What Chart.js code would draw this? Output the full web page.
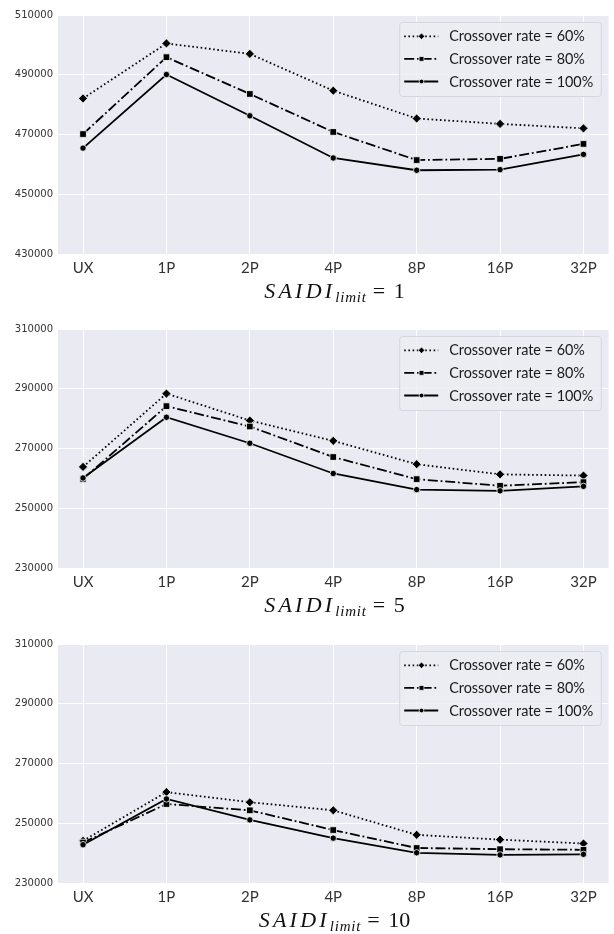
<!DOCTYPE html>
<html>
<head>
<meta charset="utf-8">
<script src="https://cdn.jsdelivr.net/npm/chart.js@4.4.1/dist/chart.umd.min.js"></script>
<style>
  html, body { margin: 0; padding: 0; background: #ffffff; }
  body { width: 614px; height: 934px; position: relative; overflow: hidden; }
  .panel { position: absolute; left: 0; width: 614px; height: 305px; }
  .panel canvas { position: absolute; left: 0; top: 0; }
  .title {
    position: absolute; left: 58px; width: 553px; text-align: center;
    font-family: "Liberation Serif", "DejaVu Serif", serif; font-size: 22px;
    line-height: 24px; color: #111; white-space: nowrap;
  }
  .title i.m { font-style: italic; letter-spacing: 3.2px; }
  .title sub { font-size: 15px; font-style: italic; vertical-align: -4px; line-height: 0; letter-spacing: 0.8px; }
  .title .eq { margin-left: 6px; word-spacing: 3px; }
</style>
</head>
<body>
<div class="panel" style="top:0px"><canvas id="c1" width="614" height="305"></canvas>
  <div class="title" style="top:279px"><i class="m">SAIDI</i><sub>limit</sub><span class="eq">= 1</span></div></div>
<div class="panel" style="top:314px"><canvas id="c2" width="614" height="305"></canvas>
  <div class="title" style="top:279px"><i class="m">SAIDI</i><sub>limit</sub><span class="eq">= 5</span></div></div>
<div class="panel" style="top:629px"><canvas id="c3" width="614" height="305"></canvas>
  <div class="title" style="top:279px"><i class="m">SAIDI</i><sub>limit</sub><span class="eq">= 10</span></div></div>

<script>
// ---------------- data ----------------
const categories = ['UX', '1P', '2P', '4P', '8P', '16P', '32P'];
const seriesLabels = ['Crossover rate = 60%', 'Crossover rate = 80%', 'Crossover rate = 100%'];

// SAIDI_limit = 1
const limit1Rate60  = [482100, 500500, 497000, 484700, 475400, 473600, 472100];
const limit1Rate80  = [470200, 495900, 483600, 470900, 461500, 461900, 466900];
const limit1Rate100 = [465500, 490100, 476300, 462200, 458100, 458300, 463400];
const limit1Ticks   = [430000, 450000, 470000, 490000, 510000];

// SAIDI_limit = 5
const limit5Rate60  = [263900, 288400, 279400, 272600, 264800, 261400, 261000];
const limit5Rate80  = [259900, 284200, 277400, 267200, 259800, 257600, 258800];
const limit5Rate100 = [260200, 280500, 271800, 261700, 256300, 255900, 257400];
const limit5Ticks   = [230000, 250000, 270000, 290000, 310000];

// SAIDI_limit = 10
const limit10Rate60  = [244200, 260500, 257100, 254400, 246200, 244600, 243300];
const limit10Rate80  = [243600, 256500, 254400, 247800, 241800, 241400, 241200];
const limit10Rate100 = [242900, 258200, 251200, 245100, 240200, 239500, 239700];
const limit10Ticks   = [230000, 250000, 270000, 290000, 310000];

// ---------------- styles ----------------
const lineStyles = [
  { dash: [1.6, 2.6], point: 'rectRot', r: 4.6 },
  { dash: [10, 2.8, 1.8, 2.8], point: 'rect', r: 4.7 },
  { dash: [], point: 'circle', r: 3.2 }
];

const bgPlugin = {
  id: 'plotBg',
  beforeDraw(chart) {
    const { ctx, chartArea: a } = chart;
    ctx.save();
    ctx.fillStyle = '#eaeaf2';
    ctx.fillRect(a.left, a.top, a.right - a.left, a.bottom - a.top);
    ctx.restore();
  }
};

function markerPath(ctx, style, r, x, y) {
  ctx.beginPath();
  if (style === 'rectRot') {
    ctx.moveTo(x, y - r); ctx.lineTo(x + r, y); ctx.lineTo(x, y + r); ctx.lineTo(x - r, y); ctx.closePath();
  } else if (style === 'rect') {
    const s = r * Math.SQRT1_2;
    ctx.rect(x - s, y - s, 2 * s, 2 * s);
  } else {
    ctx.arc(x, y, r, 0, Math.PI * 2);
  }
}

const insideLegend = {
  id: 'insideLegend',
  afterDatasetsDraw(chart) {
    const { ctx, chartArea: a } = chart;
    const boxW = 201.6, boxH = 74;
    const right = a.right - 7.7, top = a.top + 7;
    const left = right - boxW;
    ctx.save();
    ctx.globalAlpha = 0.85;
    ctx.fillStyle = '#ececf3';
    ctx.beginPath();
    if (ctx.roundRect) ctx.roundRect(left + 0.5, top + 0.5, boxW, boxH, 3); else ctx.rect(left + 0.5, top + 0.5, boxW, boxH);
    ctx.fill();
    ctx.globalAlpha = 1;
    ctx.strokeStyle = '#d6d6de';
    ctx.lineWidth = 1;
    ctx.stroke();
    chart.data.datasets.forEach((ds, i) => {
      const y = top + 14.3 + i * 22.6;
      ctx.strokeStyle = '#000';
      ctx.lineWidth = ds.borderWidth;
      ctx.setLineDash(ds.borderDash || []);
      ctx.beginPath();
      ctx.moveTo(left + 5, y);
      ctx.lineTo(left + 39, y);
      ctx.stroke();
      ctx.setLineDash([]);
      ctx.fillStyle = '#000';
      ctx.strokeStyle = '#fff';
      ctx.lineWidth = 0.7;
      markerPath(ctx, ds.pointStyle, ds.pointRadius * 0.72, left + 22.3, y);
      ctx.fill();
      ctx.stroke();
      ctx.fillStyle = '#1a1a1a';
      ctx.font = '14.4px Lato';
      ctx.textBaseline = 'middle';
      ctx.textAlign = 'left';
      ctx.fillText(ds.label, left + 50, y + 0.5);
    });
    ctx.restore();
  }
};

function makeChart(id, seriesList, yTicks) {
  const datasets = seriesList.map((vals, i) => ({
    label: seriesLabels[i],
    data: vals.map((v, j) => ({ x: j, y: v })),
    borderColor: '#000',
    borderWidth: 1.8,
    borderDash: lineStyles[i].dash,
    pointStyle: lineStyles[i].point,
    pointRadius: lineStyles[i].r,
    pointBackgroundColor: '#000',
    pointBorderColor: '#fff',
    pointBorderWidth: 0.8,
    tension: 0,
    fill: false,
    order: 3 - i
  }));
  return new Chart(document.getElementById(id), {
    type: 'line',
    data: { datasets },
    options: {
      responsive: false,
      animation: false,
      layout: { padding: { top: 15, right: 3, bottom: 0, left: 0 } },
      plugins: { legend: { display: false }, tooltip: { enabled: false }, title: { display: false } },
      scales: {
        x: {
          type: 'linear', min: -0.3, max: 6.3,
          afterBuildTicks: s => { s.ticks = categories.map((c, i) => ({ value: i })); },
          afterFit: s => { s.height = 50.7; },
          ticks: {
            callback: v => categories[v],
            font: { family: 'Lato', size: 15 }, color: '#333',
            padding: 5, maxRotation: 0, autoSkip: false
          },
          grid: { color: '#ffffff', lineWidth: 1, drawTicks: false },
          border: { display: false }
        },
        y: {
          type: 'linear', min: yTicks[0], max: yTicks[yTicks.length - 1],
          afterBuildTicks: s => { s.ticks = yTicks.map(v => ({ value: v })); },
          afterFit: s => { s.width = 58; },
          ticks: {
            callback: v => String(v),
            font: { family: 'DejaVu Sans', size: 10 }, color: '#333', padding: 5
          },
          grid: { color: '#ffffff', lineWidth: 1, drawTicks: false },
          border: { display: false }
        }
      }
    },
    plugins: [bgPlugin, insideLegend]
  });
}

makeChart('c1', [limit1Rate60, limit1Rate80, limit1Rate100], limit1Ticks);
makeChart('c2', [limit5Rate60, limit5Rate80, limit5Rate100], limit5Ticks);
makeChart('c3', [limit10Rate60, limit10Rate80, limit10Rate100], limit10Ticks);
</script>
</body>
</html>
